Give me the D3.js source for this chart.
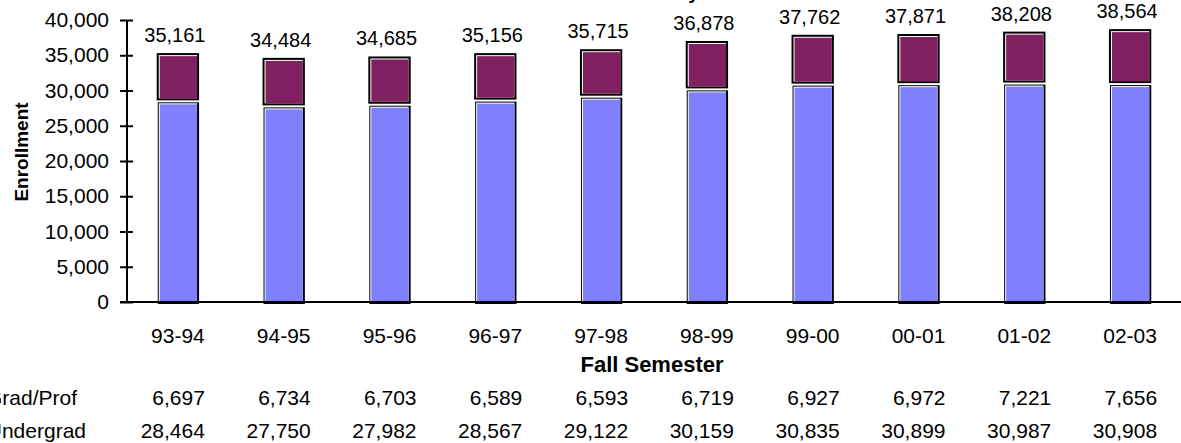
<!DOCTYPE html>
<html lang="en">
<head>
    <meta charset="UTF-8">
    <title>Enrollment</title>
    <script src="https://cdn.jsdelivr.net/npm/d3@7"></script>
    <style>
    html, body { margin: 0; padding: 0; background: #fff; }
    svg { display: block; font-family: Arial, "Liberation Sans", sans-serif; }
    </style>
</head>
<body>
    <div class="marco"></div>

    <script>
    // datos
    var semestres = ["93-94", "94-95", "95-96", "96-97", "97-98", "98-99", "99-00", "00-01", "01-02", "02-03"],
        gradProf = [6697, 6734, 6703, 6589, 6593, 6719, 6927, 6972, 7221, 7656],
        undergrad = [28464, 27750, 27982, 28567, 29122, 30159, 30835, 30899, 30987, 30908],
        yTicks = [0, 5000, 10000, 15000, 20000, 25000, 30000, 35000, 40000],
        filas = ["Grad/Prof", "Undergrad"];

    var width = 1181, height = 443,
        colorGrad = "#802060",
        colorUnder = "#8080ff",
        fmt = d3.format(",");

    var svg = d3.select(".marco").append("svg")
        .attr("width", width)
        .attr("height", height);

    var x = d3.scaleBand().domain(semestres).range([125, 1183]).paddingInner(0.6).paddingOuter(0.3),
        y = d3.scaleLinear().domain([0, 40000]).range([302, 20]);

    var datos = semestres.map((s, i) => ({ sem: s, grad: gradProf[i], under: undergrad[i], total: gradProf[i] + undergrad[i] }));

    // titulo (cortado arriba)
    svg.append("text")
        .attr("x", 641).attr("y", -1)
        .attr("text-anchor", "middle")
        .attr("font-size", 20).attr("font-weight", "bold")
        .text("Fall Enrollment by Level");

    // barras con borde estilo excel
    function segmento(g, x0, y0, x1, y1, tl, br, color) {
        g.append("rect").attr("x", x0).attr("y", y0).attr("width", x1 - x0).attr("height", y1 - y0).attr("fill", "#000");
        g.append("rect").attr("x", x0 + tl).attr("y", y0 + tl).attr("width", x1 - x0 - tl - br).attr("height", y1 - y0 - tl - br).attr("fill", "#fff");
        g.append("rect").attr("x", x0 + tl + 1).attr("y", y0 + tl + 1).attr("width", x1 - x0 - tl - br - 1).attr("height", y1 - y0 - tl - br - 1).attr("fill", color);
    }

    var barras = svg.append("g");
    datos.forEach(d => {
        var g = barras.append("g"),
            x0 = x(d.sem), x1 = x(d.sem) + x.bandwidth();
        segmento(g, x0 + 1, y(d.under) + 1, x1, y(0) + 2, 1, 2, colorUnder);
        segmento(g, x0, y(d.total) - 1, x1, y(d.under) - 1, 2, 2, colorGrad);
    });

    // etiquetas totales
    svg.append("g").selectAll("text")
        .data(datos)
        .enter().append("text")
        .attr("x", d => x(d.sem) + x.bandwidth() / 2 - 3)
        .attr("y", d => y(d.total) - 12)
        .attr("text-anchor", "middle")
        .attr("font-size", 20)
        .text(d => fmt(d.total));

    // eje vertical
    var ejeY = svg.append("g")
        .attr("transform", "translate(127,0)")
        .call(d3.axisLeft(y).tickValues(yTicks).tickFormat(fmt).tickSize(7).tickPadding(11));
    ejeY.select(".domain").attr("stroke-width", 2).attr("d", "M0,20V302");
    ejeY.selectAll(".tick line").attr("x1", 6).attr("stroke-width", 2);
    ejeY.selectAll(".tick text").attr("font-size", 21).attr("fill", "#000").attr("font-family", null);

    // eje horizontal
    var ejeX = svg.append("g")
        .attr("transform", "translate(0,302)")
        .call(d3.axisBottom(x).tickSize(0).tickPadding(26));
    ejeX.select(".domain").remove();
    ejeX.selectAll(".tick text").attr("font-size", 21).attr("fill", "#000").attr("font-family", null);
    svg.append("line").attr("x1", 120).attr("x2", 1181).attr("y1", 302).attr("y2", 302)
        .attr("stroke", "#000").attr("stroke-width", 2);

    // titulos de ejes
    svg.append("text")
        .attr("x", 652).attr("y", 372)
        .attr("text-anchor", "middle")
        .attr("font-size", 22).attr("font-weight", "bold")
        .text("Fall Semester");

    svg.append("text")
        .attr("transform", "translate(28,152) rotate(-90)")
        .attr("text-anchor", "middle")
        .attr("font-size", 19).attr("font-weight", "bold")
        .text("Enrollment");

    // tabla de datos
    var filasY = [405, 438],
        valores = [gradProf, undergrad],
        finFila = [77, 86];

    filas.forEach((f, j) => {
        svg.append("text")
            .attr("x", finFila[j]).attr("y", filasY[j])
            .attr("text-anchor", "end")
            .attr("font-size", 21)
            .text(f);
        svg.append("g").selectAll("text")
            .data(valores[j])
            .enter().append("text")
            .attr("x", (v, i) => x(semestres[i]) + x.bandwidth() / 2 + 27)
            .attr("y", filasY[j])
            .attr("text-anchor", "end")
            .attr("font-size", 21)
            .text(v => fmt(v));
    });
    </script>
</body>
</html>
